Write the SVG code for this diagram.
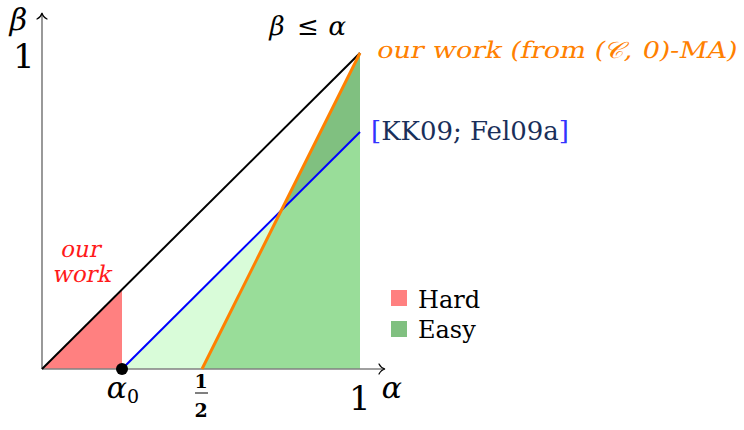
<svg xmlns="http://www.w3.org/2000/svg" width="744" height="430" viewBox="0 0 744 430">
<style>
.t{font-family:"DejaVu Serif","Liberation Serif",serif;}
.ax{stroke:#808080;stroke-width:1.6;fill:none;}
.ah{stroke:#000;stroke-width:1.2;fill:none;stroke-linecap:round;}
</style>
<rect width="744" height="430" fill="#fff"/>
<g id="regions">
<polygon points="42,369 122,290 122,369" fill="#ff8080"/>
<polygon points="122,369 281.4,210.3 202,369" fill="#d9fcd9"/>
<polygon points="202,369 281.4,210.3 360,132 360,369" fill="#99dd99"/>
<polygon points="281.4,210.3 360,53 360,132" fill="#80c080"/>
</g>
<g id="axes">
<line class="ax" x1="42" y1="369" x2="384" y2="369"/>
<line class="ax" x1="42" y1="369" x2="42" y2="14"/>
<path class="ah" d="M379,364 Q381,368 385,369 Q381,370 379,374"/>
<path class="ah" d="M37,19 Q41,17 42,13 Q43,17 47,19"/>
</g>
<g id="connectors">
<line x1="42" y1="369" x2="360" y2="53" stroke="#000" stroke-width="2"/>
<line x1="122" y1="369" x2="360" y2="132" stroke="#0000ff" stroke-width="2"/>
<line x1="202" y1="369" x2="360" y2="53" stroke="#ff8000" stroke-width="3"/>
</g>
<g id="alpha0">
<circle cx="122" cy="369" r="6" fill="#000"/>
</g>
<g id="labels">
<text class="t" transform="translate(8,30) skewX(-12)" font-size="30">β</text>
<text class="t" x="13" y="68" font-size="34">1</text>
<text class="t" transform="translate(268,35) skewX(-12)" font-size="26">β</text>
<text class="t" x="297" y="35" font-size="26">≤</text>
<text class="t" transform="translate(327,35) skewX(-12)" font-size="26">α</text>
<text class="t" transform="translate(376,58) skewX(-12)" font-size="23" fill="#ff8000" textLength="360" lengthAdjust="spacingAndGlyphs">our work (from (𝒞, 0)-MA)</text>
<text class="t" x="371" y="140" font-size="26" fill="#1a2f5a" textLength="198" lengthAdjust="spacingAndGlyphs"><tspan fill="#3333ff">[</tspan>KK09; Fel09a<tspan fill="#3333ff">]</tspan></text>
<text class="t" transform="translate(60,257) skewX(-12)" font-size="23" fill="#ff1a1a">our</text>
<text class="t" transform="translate(52,282) skewX(-12)" font-size="23" fill="#ff1a1a">work</text>
<text class="t" transform="translate(105,398) skewX(-12)" font-size="30">α</text>
<text class="t" x="127" y="403" font-size="19">0</text>
<text class="t" x="201" y="388" font-size="19" text-anchor="middle" font-weight="bold">1</text>
<line x1="195" y1="393" x2="208" y2="393" stroke="#000" stroke-width="1"/>
<text class="t" x="201" y="417" font-size="19" text-anchor="middle" font-weight="bold">2</text>
<text class="t" x="349" y="410" font-size="34">1</text>
<text class="t" transform="translate(380,398) skewX(-12)" font-size="30">α</text>
</g>
<g id="legend">
<rect x="391" y="290" width="16" height="16" fill="#ff8080"/>
<text class="t" x="418" y="308" font-size="24">Hard</text>
<rect x="391" y="321" width="16" height="16" fill="#80c080"/>
<text class="t" x="418" y="338" font-size="24">Easy</text>
</g>
</svg>
